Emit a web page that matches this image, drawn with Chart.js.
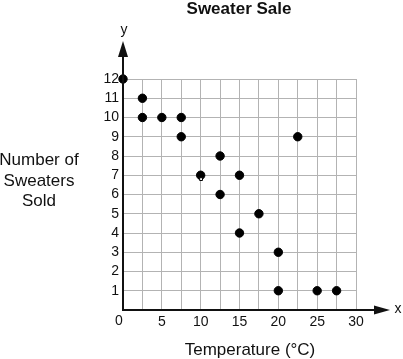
<!DOCTYPE html>
<html>
<head>
<meta charset="utf-8">
<script src="https://cdn.jsdelivr.net/npm/chart.js@4/dist/chart.umd.min.js"></script>
<style>
html,body{margin:0;padding:0;background:#fff;}
#wrap{width:403px;height:359px;position:relative;}
</style>
</head>
<body>
<div id="wrap"><canvas id="c" width="403" height="359"></canvas></div>
<script>
const chartTitle = "Sweater Sale";
const xAxisTitle = "Temperature (°C)";
const yAxisTitleLines = ["Number of", "Sweaters", "Sold"];
const temperatures = [0, 2.5, 2.5, 5, 7.5, 7.5, 10, 12.5, 12.5, 15, 15, 17.5, 20, 20, 22.5, 25, 27.5];
const sweatersSold = [12, 11, 10, 10, 10, 9, 7, 8, 6, 7, 4, 5, 3, 1, 9, 1, 1];
const strayMarkX = [10.05];
const strayMarkY = [6.8];
const xTickLabels = [5, 10, 15, 20, 25, 30];
const yTickLabels = [1,2,3,4,5,6,7,8,9,10,11,12];

const FONT = "'Liberation Sans', Arial, sans-serif";

const decor = {
  id: 'decor',
  afterDraw(chart) {
    const ctx = chart.ctx;
    const xs = chart.scales.x, ys = chart.scales.y;
    const x0 = xs.getPixelForValue(0), y0 = ys.getPixelForValue(0);
    ctx.save();
    // axes
    ctx.strokeStyle = '#111';
    ctx.fillStyle = '#111';
    ctx.lineWidth = 2;
    ctx.beginPath();
    ctx.moveTo(x0, y0 + 1);
    ctx.lineTo(x0, 50);
    ctx.moveTo(x0 - 1, y0);
    ctx.lineTo(380, y0);
    ctx.stroke();
    // y arrow
    ctx.beginPath();
    ctx.moveTo(x0, 41);
    ctx.lineTo(x0 - 5, 57);
    ctx.lineTo(x0 + 5, 57);
    ctx.closePath();
    ctx.fill();
    // x arrow
    ctx.beginPath();
    ctx.moveTo(390, y0);
    ctx.lineTo(374, y0 - 4.5);
    ctx.lineTo(374, y0 + 4.5);
    ctx.closePath();
    ctx.fill();
    // texts
    ctx.fillStyle = '#111';
    ctx.font = "14px " + FONT;
    ctx.textAlign = 'center';
    ctx.textBaseline = 'alphabetic';
    ctx.fillText('y', x0 + 1, 34);
    ctx.fillText('x', 398, 313);
    ctx.fillText('0', x0 - 4, 325);
    ctx.font = "bold 17px " + FONT;
    ctx.fillText(chartTitle, 239, 14);
    ctx.font = "17px " + FONT;
    ctx.fillText(xAxisTitle, 250, 355);
    const bl = [165, 186, 206];
    yAxisTitleLines.forEach((t, i) => ctx.fillText(t, 39, bl[i]));
    ctx.restore();
  }
};

new Chart(document.getElementById('c'), {
  type: 'scatter',
  data: {
    datasets: [{
      data: temperatures.map((t, i) => ({x: t, y: sweatersSold[i]})),
      backgroundColor: '#000',
      borderColor: '#000',
      pointRadius: 4.2,
      pointHoverRadius: 4.2,
      order: 1
    }, {
      data: strayMarkX.map((t, i) => ({x: t, y: strayMarkY[i]})),
      pointStyle: 'rect',
      backgroundColor: '#fff',
      borderColor: '#000',
      borderWidth: 1,
      pointRadius: 2,
      order: 0
    }]
  },
  options: {
    responsive: false,
    animation: false,
    events: [],
    clip: false,
    layout: {padding: {left: 0, right: 47, top: 79, bottom: 0}},
    plugins: {legend: {display: false}, title: {display: false}, tooltip: {enabled: false}},
    scales: {
      x: {
        type: 'linear', min: 0, max: 30,
        afterFit(s) { s.height = 49; },
        afterBuildTicks(s) { const t = []; for (let v = 0; v <= 30; v += 2.5) t.push({value: v}); s.ticks = t; },
        grid: {color: '#b3b3b3', lineWidth: 1, drawTicks: false},
        border: {display: false},
        ticks: {
          autoSkip: false, maxRotation: 0, padding: 4,
          color: '#111', font: {family: FONT, size: 14},
          callback: v => xTickLabels.includes(v) ? String(v) : ''
        }
      },
      y: {
        type: 'linear', min: 0, max: 12,
        afterFit(s) { s.width = 123; },
        afterBuildTicks(s) { const t = []; for (let v = 0; v <= 12; v += 1) t.push({value: v}); s.ticks = t; },
        grid: {color: '#b3b3b3', lineWidth: 1, drawTicks: false},
        border: {display: false},
        ticks: {
          autoSkip: false, padding: 4,
          color: '#111', font: {family: FONT, size: 14},
          callback: v => yTickLabels.includes(v) ? String(v) : ''
        }
      }
    }
  },
  plugins: [decor]
});
</script>
</body>
</html>
